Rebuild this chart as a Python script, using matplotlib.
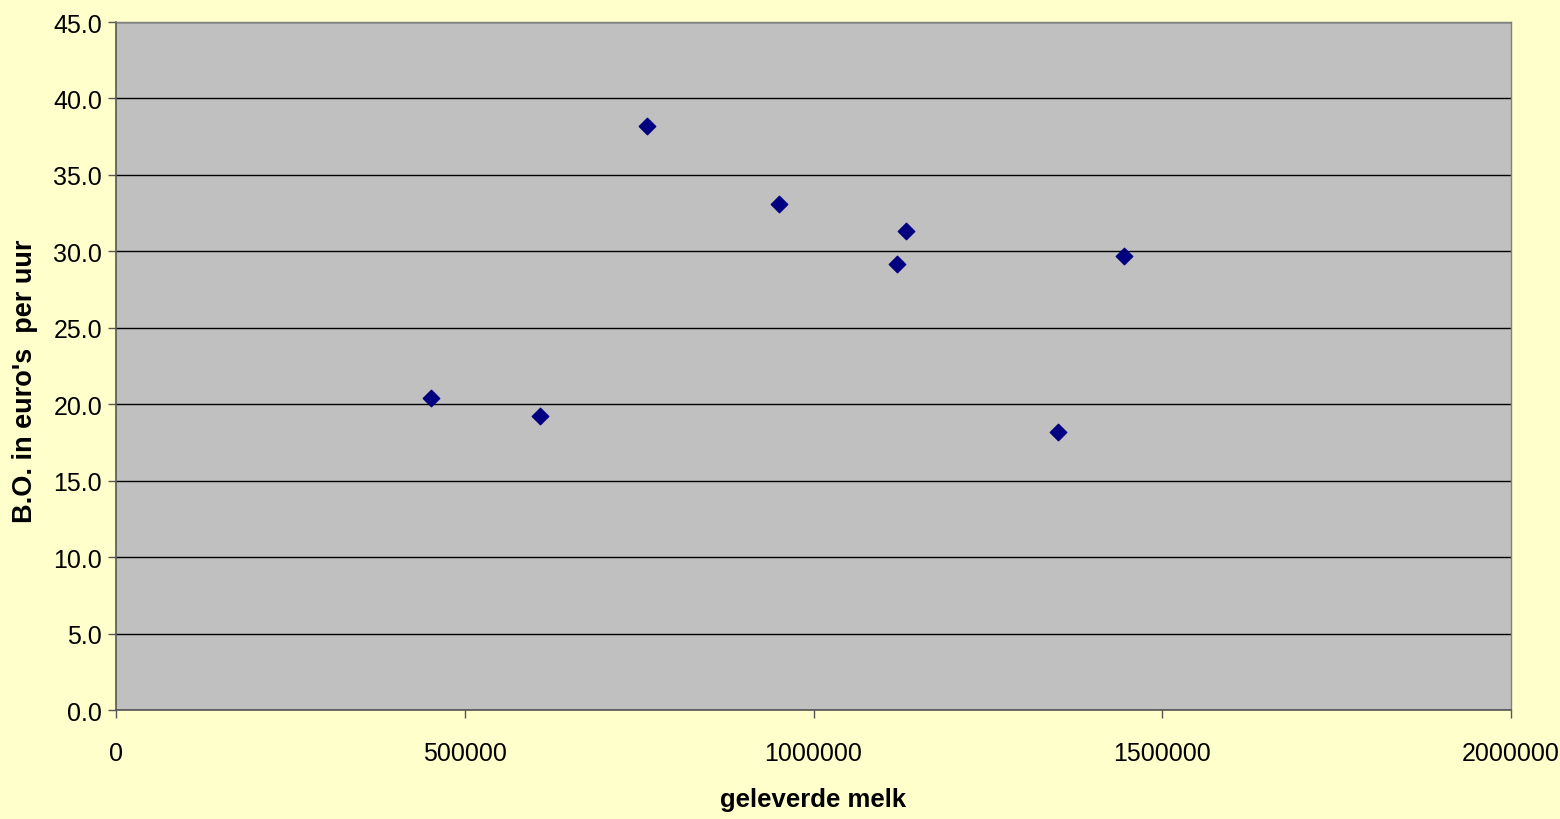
import matplotlib
matplotlib.use("Agg")
import matplotlib.pyplot as plt

# geleverde melk (liter) vs bedrijfsopbrengst per uur
melk = [452000, 608000, 761000, 951000, 1120000, 1133000, 1351000, 1445000]
bo_per_uur = [20.4, 19.2, 38.2, 33.1, 29.2, 31.3, 18.2, 29.7]

x_ticks = [0, 500000, 1000000, 1500000, 2000000]
y_ticks = [0, 5, 10, 15, 20, 25, 30, 35, 40, 45]

plt.rcParams["font.family"] = ["Liberation Sans", "DejaVu Sans"]

fig = plt.figure(figsize=(15.6, 8.2), dpi=100, facecolor="#FFFFCC")
ax = fig.add_axes([0.0744, 0.1329, 0.8942, 0.8390])
ax.set_facecolor("#C0C0C0")

ax.scatter(melk, bo_per_uur, marker="D", s=70, color="#000080", zorder=3)

ax.set_xlim(0, 2000000)
ax.set_ylim(0, 45)
ax.set_xticks(x_ticks)
ax.set_xticklabels([str(v) for v in x_ticks])
ax.set_yticks(y_ticks)
ax.set_yticklabels([f"{v:.1f}" for v in y_ticks])

ax.yaxis.grid(True, color="black", linewidth=1.0)
ax.set_axisbelow(True)

for side in ["left", "bottom"]:
    ax.spines[side].set_color("#555555")
    ax.spines[side].set_linewidth(1.2)
for side in ["right", "top"]:
    ax.spines[side].set_color("#808080")
    ax.spines[side].set_linewidth(1.0)

ax.tick_params(axis="both", direction="out", length=6, width=1,
               color="#555555", labelsize=18, pad=4)
ax.tick_params(axis="x", pad=16)

ax.set_xlabel("geleverde melk", fontsize=18.5, fontweight="bold", labelpad=16)
ax.set_ylabel("B.O. in euro's  per uur", fontsize=19.5, fontweight="bold")
ax.yaxis.set_label_coords(-0.056, 0.48)

fig.savefig("out.png", dpi=100, facecolor=fig.get_facecolor())
